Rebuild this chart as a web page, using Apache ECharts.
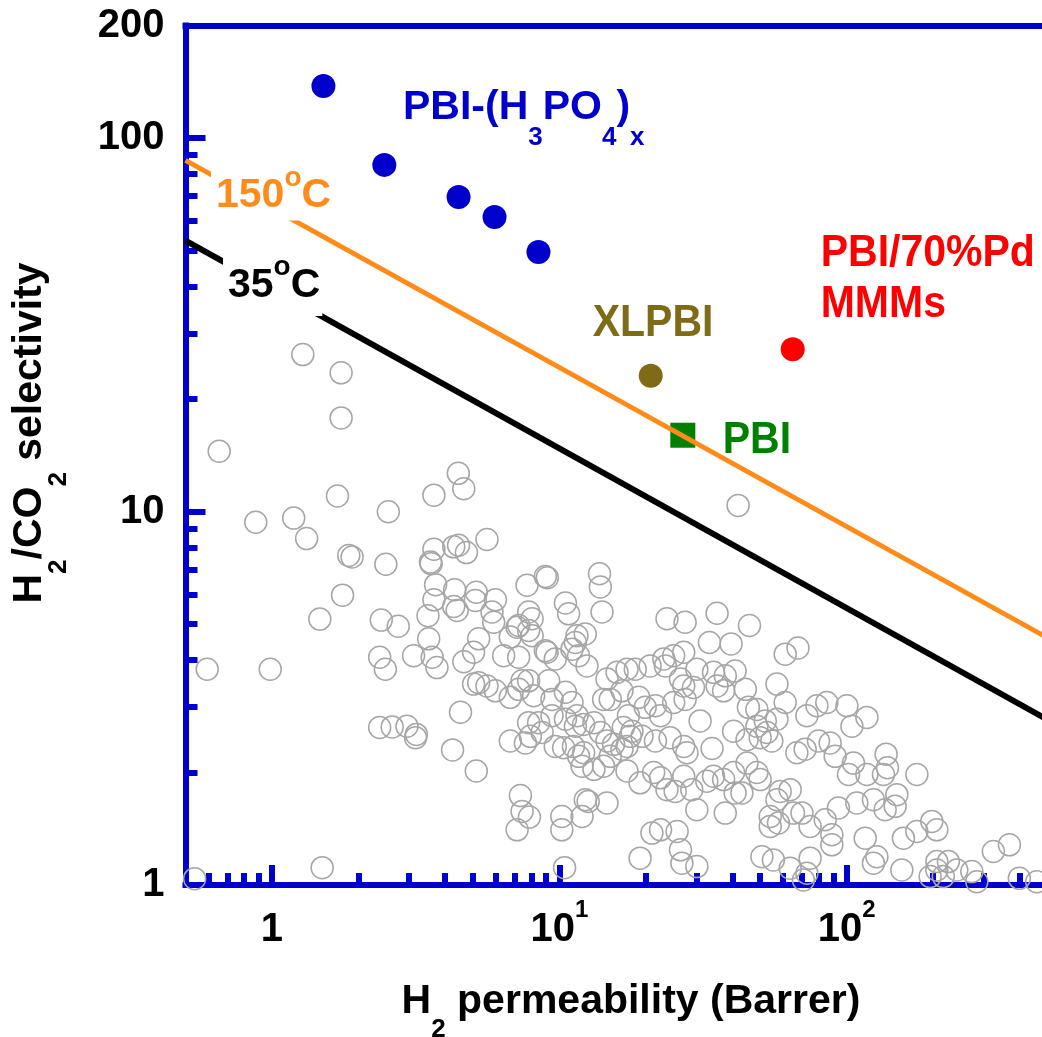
<!DOCTYPE html>
<html>
<head>
<meta charset="utf-8">
<script src="https://cdn.jsdelivr.net/npm/echarts@6/dist/echarts.min.js"></script>
<style>html,body{margin:0;padding:0;background:#fff}#c{width:1042px;height:1037px}</style>
</head>
<body>
<div id="c"></div>
<script>
// ---------- axes ----------
const xRange = [0.5, 500];
const yRange = [1, 200];
const xMajorTicks = [1, 10, 100];
const xTickLabels = ['1', '10|1', '10|2'];
const xMinorTicks = [0.6, 0.7, 0.8, 0.9, 2, 3, 4, 5, 6, 7, 8, 9, 20, 30, 40, 50, 60, 70, 80, 90, 200, 300, 400];
const yMajorTicks = [10, 100];
const yMinorTicks = [2, 3, 4, 5, 6, 7, 8, 9, 20, 30, 40, 50, 60, 70, 80, 90];
const yTickLabels = [1, 10, 100, 200];

// ---------- data ----------
const pbiH3PO4 = [[1.51, 137.8], [2.46, 84.7], [4.46, 69.5], [5.95, 61.4], [8.46, 49.5]];
const xlpbi = [[20.8, 23.1]];
const pbi = [[26.9, 16.0]];
const pbiPd = [[64.9, 27.2]];
const bound150C = [[0.5, 87.1], [500, 4.59]];
const bound35C = [[0.5, 53.1], [500, 2.77]];
const literature = [
[1.28,26.3],[1.74,23.5],[1.74,17.8],[0.655,14.5],[1.69,11.0],[4.45,12.65],[4.65,11.5],[3.66,11.06],[2.54,9.98],[0.878,9.36],
[1.19,9.6],[1.32,8.46],[1.85,7.62],[1.90,7.55],[2.49,7.22],[3.66,7.92],[4.29,8.04],[4.46,8.12],[4.75,7.76],[5.60,8.41],
[3.56,7.32],[3.58,7.25],[1.76,5.97],[3.71,6.37],[3.66,5.80],[4.32,6.17],[4.29,5.57],[4.41,5.43],[5.14,6.08],[5.10,5.78],
[5.99,5.80],[5.83,5.38],[7.72,6.35],[8.94,6.70],[9.08,6.65],[10.5,5.69],[1.467,5.15],[2.40,5.12],[2.75,4.93],[3.49,5.26],
[7.22,4.95],[7.82,5.38],[5.91,5.05],[8.04,5.16],[10.77,5.32],[0.595,3.78],[0.986,3.78],[2.37,4.07],[2.48,3.78],[3.11,4.11],
[3.51,4.56],[3.61,4.07],[3.75,3.82],[4.65,3.96],[5.03,4.20],[5.24,4.56],[6.40,4.11],[6.75,4.61],[7.13,4.90],[7.82,4.80],
[8.04,4.65],[8.94,4.24],[9.06,4.20],[7.22,4.07],[9.68,4.03],[11.07,4.28],[11.37,4.46],[11.67,4.11],[5.03,3.45],[5.24,3.48],
[5.60,3.41],[5.99,3.31],[6.75,3.18],[7.22,3.34],[7.42,3.52],[7.82,3.52],[8.14,3.21],[9.18,3.52],[9.43,3.14],[10.5,3.28],
[11.07,3.08],[7.82,2.72],[8.47,2.72],[9.43,2.84],[10.5,2.78],[11.37,2.66],[6.75,2.43],[7.62,2.40],[7.93,2.50],[8.71,2.56],
[9.68,2.35],[10.35,2.33],[11.67,2.21],[12.0,2.08],[4.53,2.90],[2.37,2.64],[2.62,2.65],[2.95,2.66],[3.18,2.53],[3.16,2.48],
[4.25,2.30],[5.14,2.02],[7.32,1.735],[7.42,1.574],[7.87,1.52],[7.13,1.405],[10.2,1.526],[10.2,1.405],[12.0,1.526],[12.31,1.692],
[1.495,1.113],[10.43,1.113],[0.538,1.04],[13.8,6.81],[13.89,6.28],[14.08,5.38],[23.7,5.16],[27.4,5.05],[35.4,5.34],[45.9,4.95],
[33.3,4.46],[39.6,4.42],[61.1,4.15],[67.7,4.31],[11.52,4.65],[12.31,4.70],[12.48,3.86],[11.52,2.84],[12.15,2.69],[14.65,3.56],
[15.88,3.71],[17.2,3.78],[18.38,3.78],[16.52,3.31],[15.04,3.14],[14.26,3.14],[20.7,3.86],[23.1,4.03],[25.0,4.11],[27.1,4.20],
[23.4,3.86],[26.4,3.56],[30.1,3.78],[34.4,3.71],[37.8,3.63],[40.9,3.74],[37.3,3.31],[35.4,3.41],[29.3,3.38],[27.1,3.41],
[57.2,3.45],[44.4,3.34],[45.5,2.99],[48.7,2.95],[61.1,3.08],[18.9,3.18],[19.9,2.99],[21.6,3.02],[22.5,2.84],[25.0,3.08],
[27.4,3.14],[30.9,2.75],[17.4,2.84],[16.7,2.64],[17.9,2.58],[13.2,2.72],[13.9,2.56],[14.65,2.43],[15.45,2.38],[16.52,2.31],
[17.2,2.35],[17.66,2.50],[19.4,2.50],[21.6,2.43],[24.3,2.48],[27.1,2.35],[27.8,2.26],[34.0,2.32],[40.4,2.58],[45.0,2.45],
[50.0,2.48],[52.8,2.56],[54.9,2.43],[48.7,2.66],[52.1,2.75],[57.2,2.78],[72.7,2.84],[78.8,3.02],[85.3,3.08],[67.1,2.26],
[71.7,2.31],[79.8,2.43],[87.6,2.40],[91.2,2.21],[11.2,2.35],[12.15,2.26],[13.2,2.04],[14.26,2.08],[15.04,2.21],[17.2,2.02],
[19.1,1.877],[21.3,2.00],[22.5,1.936],[23.7,1.80],[25.3,1.78],[27.1,1.955],[28.9,1.80],[30.1,1.59],[32.6,1.896],[34.4,1.955],
[37.3,1.915],[40.4,2.00],[40.9,1.764],[43.2,1.764],[37.8,1.558],[45.0,2.12],[48.7,2.00],[50.0,1.915],[57.2,1.692],[63.6,1.80],
[58.7,1.78],[54.2,1.526],[54.2,1.435],[57.9,1.465],[65.3,1.558],[69.9,1.558],[74.6,1.435],[84.2,1.495],[88.8,1.363],[93.6,1.608],
[12.6,1.674],[14.65,1.658],[21.0,1.377],[22.5,1.405],[25.7,1.391],[19.1,1.18],[26.4,1.242],[26.7,1.144],[30.1,1.12],[50.7,1.19],
[55.6,1.167],[63.6,1.109],[74.6,1.18],[72.7,1.075],[70.7,1.031],[100.2,3.02],[104.3,2.66],[117.6,2.81],[105.6,2.12],[101.5,1.976],
[117.6,1.976],[137.2,2.24],[138.7,2.06],[134.3,1.976],[175.5,1.976],[149.5,1.745],[147.5,1.624],[136.1,1.59],[123.9,1.692],[108.5,1.658],
[88.8,1.281],[116.0,1.335],[127.4,1.19],[123.9,1.144],[157.6,1.335],[175.5,1.391],[197.8,1.48],[206,1.405],[155.6,1.097],[206,1.155],
[226,1.155],[206,1.097],[195.2,1.053],[217,1.053],[241.7,1.097],[272.6,1.086],[283.8,1.02],[324,1.229],[368.4,1.281],[399,1.042],
[458.7,1.02],[41.9,10.38]
];

// ---------- styling ----------
const BLUE = '#0000cd';
const ORANGE = '#ff8c1a';
const OLIVE = '#7f6b16';
const GREEN = '#008000';
const RED = '#ff0000';
const FF = '"Liberation Sans", Arial, sans-serif';
const axisLineStyle = {color: BLUE, width: 6, cap: 'square'};
const noSplit = {show: false};

function tok(size, lh, va, color) {
  return {fontSize: size, fontWeight: 'bold', fontFamily: FF, lineHeight: lh, verticalAlign: va, fill: color, color: color};
}
function plainText(x, y, text, color) {
  return {
    type: 'text', x: x, y: y, scaleY: 1.07, z: 100, silent: true,
    style: {text: text, fill: color, fontSize: 41, fontWeight: 'bold', fontFamily: FF,
      align: 'left', verticalAlign: 'middle', textAlign: 'left', textVerticalAlign: 'middle'}
  };
}

const chart = echarts.init(document.getElementById('c'), null, {renderer: 'canvas'});

const option = {
  animation: false,
  backgroundColor: '#ffffff',
  grid: {left: 185.5, top: 25.5, width: 862, height: 859.5, containLabel: false, outerBoundsMode: 'none'},
  xAxis: [
    {
      type: 'log', min: xRange[0], max: xRange[1], position: 'bottom',
      axisLine: {show: true, onZero: false, lineStyle: axisLineStyle},
      axisTick: {show: true, inside: true, length: 20, customValues: xMajorTicks, lineStyle: {color: BLUE, width: 6}},
      axisLabel: {
        show: true, customValues: xMajorTicks, margin: 13,
        formatter: function (v) {
          const i = xMajorTicks.indexOf(v);
          const parts = (i >= 0 ? xTickLabels[i] : String(v)).split('|');
          return parts.length > 1 ? '{m|' + parts[0] + '}{p|' + parts[1] + '}' : '{m|' + parts[0] + '}';
        },
        rich: {m: tok(40, 52, 'bottom', '#000'), p: tok(24, 24, 'top', '#000')}
      },
      splitLine: noSplit
    },
    {
      type: 'log', min: xRange[0], max: xRange[1], position: 'bottom',
      axisLine: {show: false},
      axisTick: {show: true, inside: true, length: 12, customValues: xMinorTicks, lineStyle: {color: BLUE, width: 6}},
      axisLabel: {show: false},
      splitLine: noSplit
    },
    {
      type: 'log', min: xRange[0], max: xRange[1], position: 'top',
      axisLine: {show: true, onZero: false, lineStyle: axisLineStyle},
      axisTick: {show: false}, axisLabel: {show: false}, splitLine: noSplit
    }
  ],
  yAxis: [
    {
      type: 'log', min: yRange[0], max: yRange[1], position: 'left',
      axisLine: {show: true, onZero: false, lineStyle: axisLineStyle},
      axisTick: {show: true, inside: true, length: 20, customValues: yMajorTicks, lineStyle: {color: BLUE, width: 6}},
      axisLabel: {show: true, customValues: yTickLabels, margin: 21, color: '#000', fontSize: 40, fontWeight: 'bold', fontFamily: FF},
      splitLine: noSplit
    },
    {
      type: 'log', min: yRange[0], max: yRange[1], position: 'left',
      axisLine: {show: false},
      axisTick: {show: true, inside: true, length: 12, customValues: yMinorTicks, lineStyle: {color: BLUE, width: 6}},
      axisLabel: {show: false},
      splitLine: noSplit
    }
  ],
  series: [
    {
      type: 'scatter', name: 'literature', data: literature, xAxisIndex: 0, yAxisIndex: 0,
      symbol: 'circle', symbolSize: 22,
      itemStyle: {color: 'rgba(0,0,0,0)', borderColor: '#a6a6a6', borderWidth: 1.5, opacity: 1},
      emphasis: {disabled: true}, silent: true
    },
    {
      type: 'line', name: '35C', data: bound35C, xAxisIndex: 0, yAxisIndex: 0,
      showSymbol: false, symbol: 'none', lineStyle: {color: '#000000', width: 6}, silent: true
    },
    {
      type: 'line', name: '150C', data: bound150C, xAxisIndex: 0, yAxisIndex: 0,
      showSymbol: false, symbol: 'none', lineStyle: {color: ORANGE, width: 5}, silent: true
    },
    {
      type: 'scatter', name: 'PBI-(H3PO4)x', data: pbiH3PO4, symbol: 'circle', symbolSize: 24,
      itemStyle: {color: BLUE, opacity: 1}, silent: true
    },
    {
      type: 'scatter', name: 'XLPBI', data: xlpbi, symbol: 'circle', symbolSize: 24,
      itemStyle: {color: OLIVE, opacity: 1}, silent: true
    },
    {
      type: 'scatter', name: 'PBI', data: pbi, symbol: 'rect', symbolSize: 25,
      itemStyle: {color: GREEN, opacity: 1}, silent: true
    },
    {
      type: 'scatter', name: 'PBI/70%Pd MMMs', data: pbiPd, symbol: 'circle', symbolSize: 24,
      itemStyle: {color: RED, opacity: 1}, silent: true
    }
  ],
  graphic: [
    // y-axis title
    {
      type: 'text', x: 9.5, y: 433, rotation: Math.PI / 2, z: 100, silent: true,
      style: {
        text: '{m|H}{s|2}{m|/CO}{s|2}{m| selectivity}',
        rich: {m: tok(41, 62, 'top', '#000'), s: tok(26, 26, 'bottom', '#000')},
        fill: '#000', align: 'center', verticalAlign: 'top', textAlign: 'center', textVerticalAlign: 'top'
      }
    },
    // x-axis title
    {
      type: 'text', x: 631, y: 981, z: 100, silent: true,
      style: {
        text: '{m|H}{s|2}{m| permeability (Barrer)}',
        rich: {m: tok(41, 62, 'top', '#000'), s: tok(26, 26, 'bottom', '#000')},
        fill: '#000', align: 'center', verticalAlign: 'top', textAlign: 'center', textVerticalAlign: 'top'
      }
    },
    // PBI-(H3PO4)x
    {
      type: 'text', x: 403, y: 87.5, z: 100, silent: true,
      style: {
        text: '{m|PBI-(H}{s|3}{m|PO}{s|4}{m|)}{s|x}',
        rich: {m: tok(41, 63, 'top', BLUE), s: tok(26, 26, 'bottom', BLUE)},
        fill: BLUE, align: 'left', verticalAlign: 'top', textAlign: 'left', textVerticalAlign: 'top'
      }
    },
    // 150 oC (white box hides the line behind it)
    {
      type: 'text', x: 211, y: 164, z: 100, silent: true,
      style: {
        text: '{m|150}{p|o}{m|C}',
        rich: {m: tok(41, 52.5, 'bottom', ORANGE), p: tok(28, 28, 'top', ORANGE)},
        fill: ORANGE, backgroundColor: '#ffffff', padding: [0, 2, 4, 5],
        align: 'left', verticalAlign: 'top', textAlign: 'left', textVerticalAlign: 'top'
      }
    },
    // 35 oC
    {
      type: 'text', x: 223, y: 253.5, z: 100, silent: true,
      style: {
        text: '{m|35}{p|o}{m|C}',
        rich: {m: tok(41, 52.5, 'bottom', '#000'), p: tok(28, 28, 'top', '#000')},
        fill: '#000', backgroundColor: '#ffffff', padding: [0, 2, 10, 5],
        align: 'left', verticalAlign: 'top', textAlign: 'left', textVerticalAlign: 'top'
      }
    },
    plainText(592.7, 324, 'XLPBI', OLIVE),
    plainText(722.7, 441, 'PBI', GREEN),
    plainText(820.7, 254, 'PBI/70%Pd', RED),
    plainText(820.7, 305, 'MMMs', RED)
  ]
};
chart.setOption(option);
</script>
</body>
</html>
